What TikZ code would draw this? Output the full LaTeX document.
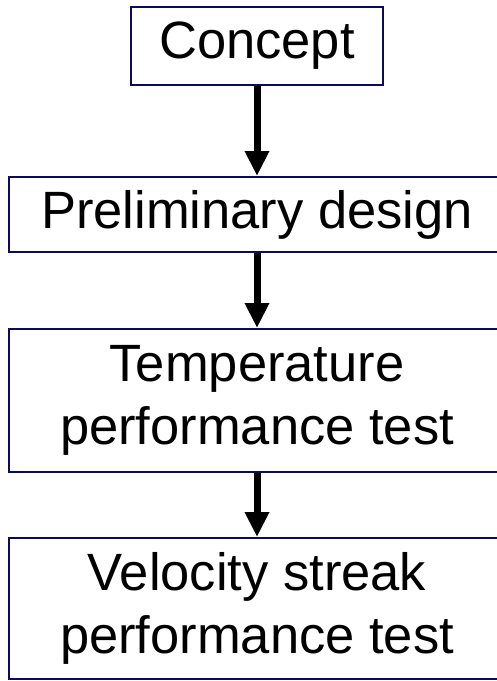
\documentclass[tikz,border=0pt]{standalone}
\usepackage{fontspec}
\setmainfont{Liberation Sans}
\usetikzlibrary{arrows.meta}
\definecolor{box-edge}{HTML}{0A0A5E}

\begin{document}
\begin{tikzpicture}[x=1pt, y=-1pt,
  every node/.style={font=\fontsize{52.5}{63.5}\selectfont},
  stage/.style={draw=box-edge, line width=2pt, fill=white, align=center, inner sep=0pt},
  flow/.style={-{Triangle[width=23pt,length=25pt]}, line width=7pt}]
  \clip (0,0) rectangle (497,681);
  \node[stage, minimum width=252pt, minimum height=78pt] (concept) at (257,46) {Concept};
  \node[stage, minimum width=496pt, minimum height=75pt] (prelim) at (257,214.5) {Preliminary design};
  \node[stage, minimum width=496pt, minimum height=143pt] (temp) at (257,400.5) {Temperature\\performance test};
  \node[stage, minimum width=496pt, minimum height=141pt] (velo) at (257,608.5) {Velocity streak\\performance test};
  \draw[flow] (concept.south) -- (prelim.north);
  \draw[flow] (prelim.south) -- (temp.north);
  \draw[flow] (temp.south) -- (velo.north);
\end{tikzpicture}
\end{document}
